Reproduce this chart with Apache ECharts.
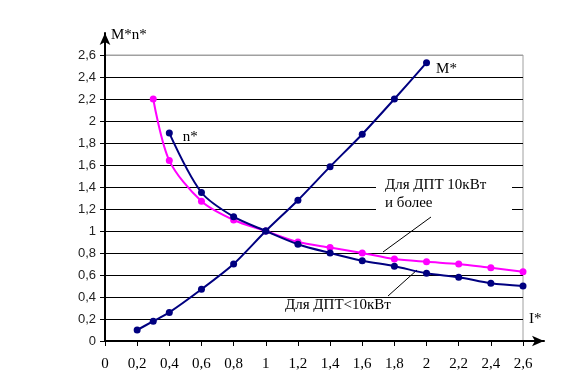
<!DOCTYPE html>
<html><head><meta charset="utf-8">
<script src="https://cdn.jsdelivr.net/npm/echarts@6/dist/echarts.min.js"></script>
<style>html,body{margin:0;padding:0;background:#fff}#c{width:567px;height:392px}</style>
</head><body><div id="c"></div>
<script>
const mX = [0.2, 0.3, 0.4, 0.6, 0.8, 1.0, 1.2, 1.4, 1.6, 1.8, 2.0];
const mY = [0.10, 0.18, 0.26, 0.47, 0.70, 1.00, 1.28, 1.585, 1.88, 2.20, 2.53];
const nBigX = [0.3, 0.4, 0.6, 0.8, 1.0, 1.2, 1.4, 1.6, 1.8, 2.0, 2.2, 2.4, 2.6];
const nBigY = [2.20, 1.64, 1.27, 1.10, 1.00, 0.90, 0.85, 0.80, 0.745, 0.72, 0.70, 0.665, 0.63];
const nSmallX = [0.4, 0.6, 0.8, 1.0, 1.2, 1.4, 1.6, 1.8, 2.0, 2.2, 2.4, 2.6];
const nSmallY = [1.89, 1.35, 1.13, 1.00, 0.88, 0.80, 0.73, 0.68, 0.615, 0.58, 0.525, 0.50];
const axisMin = 0, axisMax = 2.6, axisStep = 0.2;

const SERIF = "'Liberation Serif', 'Times New Roman', 'DejaVu Serif', serif";
const SANS = "'Liberation Sans', Arial, sans-serif";
const fmt = v => String(Math.round(v * 10) / 10).replace('.', ',');
const pts = (xs, ys) => xs.map((x, i) => [x, ys[i]]);
const navy = '#000080', pink = '#FF00FF';
const nTicks = Math.round((axisMax - axisMin) / axisStep) + 1;
const splitColors = Array.from({length: nTicks}, (_, i) => i === nTicks - 1 ? '#a0a0a0' : '#000');

const lblStyle = {fontFamily: SERIF, fontSize: 15, color: '#000'};
const mData = pts(mX, mY);
mData[mData.length - 1] = {value: mData[mData.length - 1], label: Object.assign({show: true, formatter: 'M*', position: 'right', distance: 6, offset: [0, 6]}, lblStyle)};
const nsData = pts(nSmallX, nSmallY);
nsData[0] = {value: nsData[0], label: Object.assign({show: true, formatter: 'n*', position: 'right', distance: 10, offset: [0, 4]}, lblStyle)};

const arrowLine = {show: true, onZero: false, lineStyle: {color: '#000', width: 2}, symbol: ['none', 'arrow'], symbolSize: [8, 12]};

const chart = echarts.init(document.getElementById('c'), null, {renderer: 'canvas'});
chart.setOption({
  animation: false,
  backgroundColor: '#fff',
  grid: [
    {left: 105, right: 44, top: 55, bottom: 51, show: true, borderColor: '#a0a0a0', borderWidth: 1, backgroundColor: 'transparent'},
    {left: 105, right: 23, top: 33, bottom: 51, show: false}
  ],
  xAxis: [{
    type: 'value', min: axisMin, max: axisMax, interval: axisStep, gridIndex: 0,
    axisLine: {show: true, lineStyle: {color: '#000', width: 2}},
    axisTick: {show: true, length: 5, lineStyle: {color: '#000', width: 1}},
    axisLabel: {formatter: fmt, fontFamily: SERIF, fontSize: 15, color: '#000', margin: 16},
    splitLine: {show: false}
  }, {
    type: 'value', gridIndex: 1, min: 0, max: 1, position: 'bottom', axisLine: arrowLine,
    axisTick: {show: false}, axisLabel: {show: false}, splitLine: {show: false}
  }],
  yAxis: [{
    type: 'value', min: axisMin, max: axisMax, interval: axisStep, gridIndex: 0,
    axisLine: {show: true, lineStyle: {color: '#000', width: 2}},
    axisTick: {show: true, length: 5, lineStyle: {color: '#000', width: 1}},
    axisLabel: {formatter: fmt, fontFamily: SANS, fontSize: 13, color: '#222', margin: 9},
    splitLine: {show: true, lineStyle: {color: splitColors, width: 1}}
  }, {
    type: 'value', gridIndex: 1, min: 0, max: 1, position: 'left', axisLine: arrowLine,
    axisTick: {show: false}, axisLabel: {show: false}, splitLine: {show: false}
  }],
  graphic: {elements: [
    {type: 'text', left: 111, top: 28, style: {text: 'M*n*', font: '15px ' + SERIF, fill: '#000'}},
    {type: 'text', left: 529, top: 312, style: {text: 'I*', font: '15px ' + SERIF, fill: '#000'}},
    {type: 'rect', shape: {x: 376, y: 176, width: 136, height: 38}, style: {fill: '#fff'}, z: 1},
    {type: 'text', left: 385, top: 176, style: {text: 'Для ДПТ 10кВт\nи более', font: '15px ' + SERIF, fill: '#000', lineHeight: 18}, z: 2},
    {type: 'line', shape: {x1: 431, y1: 217, x2: 383, y2: 252}, style: {stroke: '#000', lineWidth: 1}, z: 2},
    {type: 'text', left: 285, top: 298, style: {text: 'Для ДПТ<10кВт', font: '15px ' + SERIF, fill: '#000'}, z: 2},
    {type: 'line', shape: {x1: 417, y1: 270, x2: 388, y2: 296}, style: {stroke: '#000', lineWidth: 1}, z: 2}
  ]},
  series: [
    {type: 'line', name: 'M*', data: mData, smooth: 0.25, symbol: 'circle', symbolSize: 7, lineStyle: {color: navy, width: 2}, itemStyle: {color: navy}, z: 5},
    {type: 'line', name: 'n* ≥10кВт', data: pts(nBigX, nBigY), smooth: 0.3, symbol: 'circle', symbolSize: 7, lineStyle: {color: pink, width: 2}, itemStyle: {color: pink}, z: 4},
    {type: 'line', name: 'n* <10кВт', data: nsData, smooth: 0.3, symbol: 'circle', symbolSize: 7, lineStyle: {color: navy, width: 2}, itemStyle: {color: navy}, z: 5}
  ]
});
</script></body></html>
